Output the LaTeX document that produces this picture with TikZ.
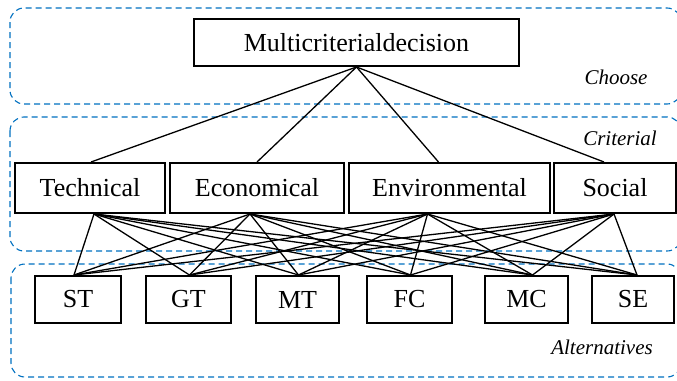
\documentclass[tikz,border=0pt]{standalone}
\usepackage{fontspec}
\setmainfont{Liberation Serif}
\usepackage{tikz}
\definecolor{zoneblue}{RGB}{0,112,192}

\begin{document}
\begin{tikzpicture}[x=1pt,y=-1pt,
  crit/.style={draw,line width=2pt,inner sep=0pt,minimum height=50pt,font=\fontsize{26}{30}\selectfont},
  alt/.style={draw,line width=2pt,inner sep=0pt,minimum height=47pt,font=\fontsize{26}{30}\selectfont},
  zone/.style={draw=zoneblue,line width=1.1pt,dash pattern=on 6pt off 4pt,rounded corners=14pt},
  tag/.style={font=\fontsize{21}{24}\selectfont\itshape}]

\useasboundingbox (0,0) rectangle (677,380);

% Zonas
\draw[zone] (10,8) rectangle (681,104);
\draw[zone] (10,117) rectangle (681,251);
\draw[zone] (11,264) rectangle (681,377);

\node[tag] (choose) at (616,77) {Choose};
\node[tag] (criterial) at (620,138) {Criterial};
\node[tag] (alternatives) at (602,347) {Alternatives};

% Decision
\node[crit,minimum width=325pt,minimum height=47pt] (dec) at (356.5,42.5) {Multicriterialdecision};

% Criterios
\node[crit,minimum width=150pt] (tech) at (90,188) {Technical};
\node[crit,minimum width=174pt] (econ) at (257,188) {Economical};
\node[crit,minimum width=201pt] (env) at (449.5,188) {Environmental};
\node[crit,minimum width=122pt] (soc) at (615,188) {Social};

% Alternativas
\node[alt,minimum width=86pt] (st) at (78,299.5) {ST};
\node[alt,minimum width=85pt] (gt) at (188.5,299.5) {GT};
\node[alt,minimum width=83pt] (mt) at (297.5,299.5) {MT};
\node[alt,minimum width=85pt] (fc) at (409.5,299.5) {FC};
\node[alt,minimum width=83pt] (mc) at (526.5,299.5) {MC};
\node[alt,minimum width=82pt] (se) at (633,299.5) {SE};

\foreach \c/\dx in {tech/1,econ/0,env/-11,soc/-11}
  \draw[line width=1.3pt] (dec.south) -- ([xshift=\dx pt]\c.north);

\foreach \c/\dx in {tech/4,econ/-7,env/-22,soc/-1}
  \foreach \a/\ax in {st/-4,gt/1,mt/1,fc/1,mc/6,se/4}
    \draw[line width=1.3pt] ([xshift=\dx pt]\c.south) -- ([xshift=\ax pt]\a.north);

\end{tikzpicture}
\end{document}
